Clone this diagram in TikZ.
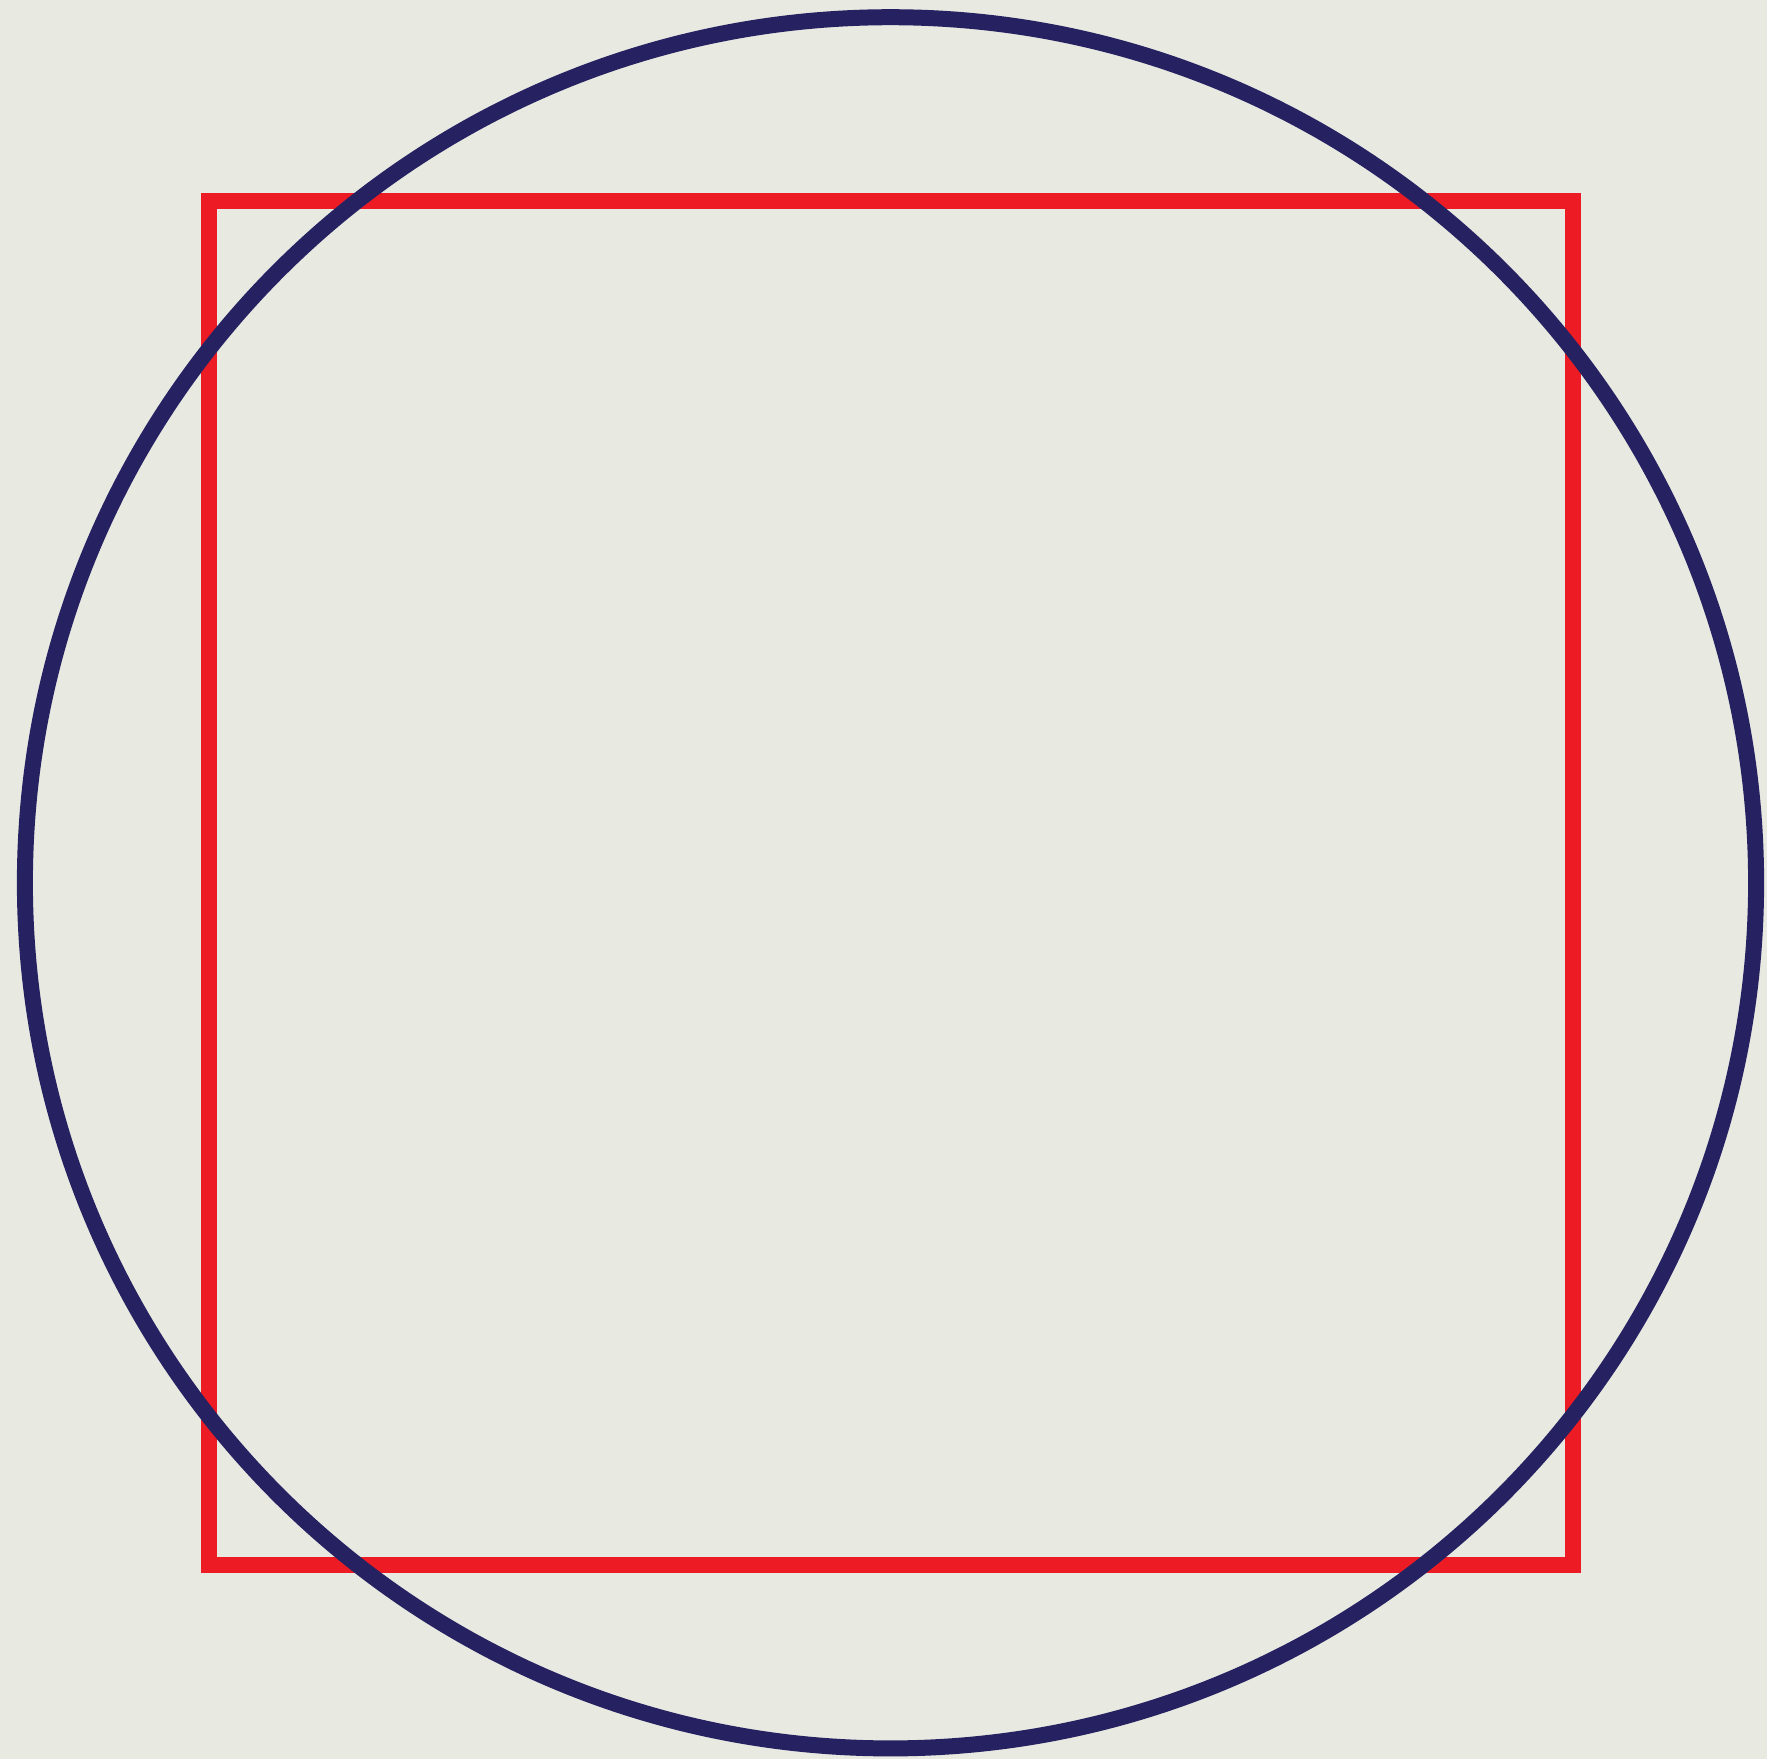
\documentclass[tikz,border=0pt]{standalone}
\usepackage{xcolor}
\usepackage{tikz}

\definecolor{paper}{HTML}{E8E9E1}
\definecolor{squarered}{HTML}{ED1C24}
\definecolor{circlenavy}{HTML}{262262}

\begin{document}
\begin{tikzpicture}[
  x=1pt, y=-1pt,
  square/.style={draw=squarered, line width=16pt},
  ring/.style={draw=circlenavy, line width=16pt},
]

% Background
\fill[paper] (0,0) rectangle (1767,1759);
\useasboundingbox (0,0) rectangle (1767,1759);

% Square
\draw[square] (209,201) rectangle (1572.5,1564.7);

% Circle
\draw[ring] (890.5,882.8) circle[radius=865.6];

\end{tikzpicture}
\end{document}
